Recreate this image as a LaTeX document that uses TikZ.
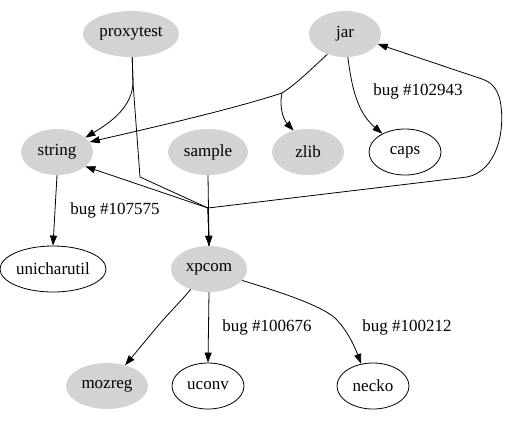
\documentclass[tikz,border=0pt]{standalone}
\usepackage{fontspec}
\setmainfont{Liberation Serif}
\usetikzlibrary{shapes.geometric,arrows.meta}
\definecolor{nodegray}{RGB}{211,211,211}
\begin{document}
\begin{tikzpicture}[x=1bp,y=-1bp,
  every node/.style={font=\fontsize{17bp}{20bp}\selectfont},
  gnode/.style={ellipse, fill=nodegray, draw=none, inner sep=0pt, minimum height=46bp},
  wnode/.style={ellipse, draw, line width=0.8bp, inner sep=0pt, minimum height=46bp},
  arr/.style={line width=0.8bp, -{Triangle[length=10bp,width=7bp]}},
  ln/.style={line width=0.8bp},
  lbl/.style={inner sep=0pt}]
\useasboundingbox (0,0) rectangle (516,423);
% nodes
\node[gnode, minimum width=96bp] (proxytest) at (131,34) {proxytest};
\node[gnode, minimum width=72bp] (jar) at (345,34) {jar};
\node[gnode, minimum width=72bp] (string) at (57,152) {string};
\node[gnode, minimum width=80bp] (sample) at (208,152) {sample};
\node[gnode, minimum width=72bp] (zlib) at (308,152) {zlib};
\node[wnode, minimum width=72bp] (caps) at (405,152) {caps};
\node[wnode, minimum width=106bp] (unicharutil) at (53,269) {unicharutil};
\node[gnode, minimum width=76bp] (xpcom) at (209,269) {xpcom};
\node[gnode, minimum width=82bp] (mozreg) at (107,386) {mozreg};
\node[wnode, minimum width=72bp] (uconv) at (208,386) {uconv};
\node[wnode, minimum width=72bp] (necko) at (373,386) {necko};
% waypoints
\coordinate (pt) at (133,83);
\coordinate (pb) at (140,177);
\coordinate (xj) at (208,208);
\coordinate (jb) at (282,93);
% labels
\node[lbl] (l107575) at (115,210) {bug \#107575};
\node[lbl] (l102943) at (418,91) {bug \#102943};
\node[lbl] (l100676) at (267,327) {bug \#100676};
\node[lbl] (l100212) at (407,327) {bug \#100212};
% edges
\draw[arr] (proxytest.-87) -- (pt) .. controls (132,106) and (113,121) .. (string.27);
\draw[arr] (proxytest.-87) -- (pt) -- (pb) -- (xj) -- (xpcom.north);
\draw[arr] (sample.south) -- (xpcom.north);
\draw[arr] (jar.-131) .. controls (306,74) and (296,84) .. (jb) .. controls (230,110) and (150,128) .. (string.17);
\draw[arr] (jb) .. controls (279,106) and (283,119) .. (zlib.124);
\draw[arr] (jar.-83) .. controls (352,90) and (358,113) .. (caps.141);
\draw[arr] (xpcom.north) -- (xj) -- (string.-27);
\draw[arr] (xpcom.north) -- (xj) -- (467,177) .. controls (497,171) and (506,130) .. (500,100)
  .. controls (497,88) and (491,82) .. (482,79) -- (jar.-17);
\draw[arr] (string.south) -- (unicharutil.north);
\draw[arr] (xpcom.-132) .. controls (180,302) and (172,310) .. (163,320) .. controls (150,335) and (138,350) .. (mozreg.49);
\draw[arr] (xpcom.south) -- (uconv.north);
\draw[arr] (xpcom.-19) .. controls (280,292) and (320,305) .. (335,318) .. controls (347,330) and (354,345) .. (necko.118);
\end{tikzpicture}
\end{document}
